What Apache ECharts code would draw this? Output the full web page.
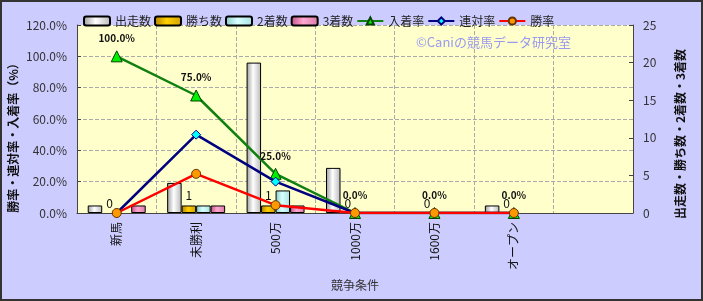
<!DOCTYPE html>
<html><head><meta charset="utf-8">
<script src="https://cdn.jsdelivr.net/npm/echarts@6/dist/echarts.min.js"></script>
<style>html,body{margin:0;padding:0;background:#CCCCFF}#c{width:703px;height:301px}</style>
</head><body><div id="c"></div>
<script>
const categories = ['新馬', '未勝利', '500万', '1000万', '1600万', 'オープン', ''];
const starts = [1, 4, 20, 6, 0, 1, null];
const wins = [0, 1, 1, 0, 0, 0, null];
const seconds = [0, 1, 3, 0, 0, 0, null];
const thirds = [1, 1, 1, 0, 0, 0, null];
const placeRate = [100, 75, 25, 0, 0, 0, null];
const quinellaRate = [0, 50, 20, 0, 0, 0, null];
const winRate = [0, 25, 5, 0, 0, 0, null];
const seriesNames = ['出走数', '勝ち数', '2着数', '3着数', '入着率', '連対率', '勝率'];

const FONT = '"Noto Sans CJK JP", "DejaVu Sans", sans-serif';
function grad(a, b, c) {
  return new echarts.graphic.LinearGradient(0, 0, 1, 0, [
    {offset: 0, color: a}, {offset: 0.45, color: b}, {offset: 1, color: c}]);
}
// zero-height bars get no border (as in the reference)
function barData(arr) {
  return arr.map(v => v === 0 ? {value: 0, itemStyle: {borderWidth: 0}} : v);
}
const barBase = {type: 'bar', yAxisIndex: 1, barGap: '0%', barCategoryGap: '27%'};
const chart = echarts.init(document.getElementById('c'));
chart.setOption({
  backgroundColor: '#CCCCFF',
  animation: false,
  textStyle: {fontFamily: FONT},
  grid: {left: 77, right: 70, top: 25, bottom: 88, show: true, backgroundColor: '#FFFFCC', borderWidth: 0},
  legend: {
    data: seriesNames, left: 78, top: 10, itemWidth: 26, itemHeight: 9, itemGap: 3,
    textStyle: {fontSize: 12, color: '#222', fontFamily: FONT}
  },
  xAxis: {
    type: 'category', data: categories,
    name: '競争条件', nameLocation: 'middle', nameGap: 66,
    nameTextStyle: {fontSize: 12, color: '#333', fontFamily: FONT},
    axisLine: {lineStyle: {color: '#444', width: 1}},
    axisTick: {show: false},
    axisLabel: {rotate: 90, fontSize: 12, color: '#111', margin: 9, interval: 0},
    splitLine: {show: true, lineStyle: {color: '#aaa', type: 'dashed', width: 1}}
  },
  yAxis: [{
    type: 'value', min: 0, max: 120, interval: 20,
    axisLine: {show: true, lineStyle: {color: '#444'}},
    axisTick: {show: true, inside: true, length: 4, lineStyle: {color: '#444'}},
    axisLabel: {fontSize: 12, color: '#333', margin: 10, formatter: v => v.toFixed(1) + '%'},
    splitLine: {show: true, lineStyle: {color: '#aaa', type: 'dashed', width: 1}}
  }, {
    type: 'value', min: 0, max: 25, interval: 5,
    axisLine: {show: true, lineStyle: {color: '#444'}},
    axisTick: {show: true, inside: true, length: 4, lineStyle: {color: '#444'}},
    axisLabel: {fontSize: 12, color: '#333', margin: 10},
    splitLine: {show: false}
  }],
  series: [
    Object.assign({}, barBase, {name: '出走数', data: barData(starts),
      itemStyle: {color: grad('#9a9a9a', '#ffffff', '#b8b8b8'), borderColor: '#000', borderWidth: 1}}),
    Object.assign({}, barBase, {name: '勝ち数', data: barData(wins),
      itemStyle: {color: grad('#b08000', '#ffd000', '#d0a000'), borderColor: '#000', borderWidth: 1},
      label: {show: true, position: 'top', distance: 4, fontSize: 12, color: '#111'}}),
    Object.assign({}, barBase, {name: '2着数', data: barData(seconds),
      itemStyle: {color: grad('#88c8c8', '#d8ffff', '#a8e0e0'), borderColor: '#000', borderWidth: 1}}),
    Object.assign({}, barBase, {name: '3着数', data: barData(thirds),
      itemStyle: {color: grad('#c05088', '#ffa8d0', '#d878a8'), borderColor: '#000', borderWidth: 1}}),
    {type: 'line', name: '入着率', yAxisIndex: 0, data: placeRate, z: 5,
      lineStyle: {color: '#108010', width: 2.5}, symbol: 'triangle', symbolSize: 11,
      itemStyle: {color: '#00ee00', borderColor: '#004400', borderWidth: 1},
      label: {show: true, position: 'top', distance: 7, fontSize: 10, fontWeight: 'bold', color: '#111',
        formatter: p => p.value.toFixed(1) + '%'}},
    {type: 'line', name: '連対率', yAxisIndex: 0, data: quinellaRate, z: 6,
      lineStyle: {color: '#000080', width: 2.5}, symbol: 'diamond', symbolSize: 9,
      itemStyle: {color: '#00ffff', borderColor: '#000080', borderWidth: 1}},
    {type: 'line', name: '勝率', yAxisIndex: 0, data: winRate, z: 7,
      lineStyle: {color: '#ff0000', width: 2.5}, symbol: 'circle', symbolSize: 9,
      itemStyle: {color: '#ff9900', borderColor: '#663300', borderWidth: 1}}
  ],
  graphic: [
    {type: 'text', left: 416, top: 36, silent: true,
      style: {text: '©Caniの競馬データ研究室', fontSize: 13, fill: '#9a9af0', fontFamily: FONT}},
    {type: 'text', x: 13, y: 135, rotation: Math.PI / 2, silent: true,
      style: {text: '勝率・連対率・入着率（%）', fontSize: 12, fontWeight: 'bold', fill: '#111',
        align: 'center', verticalAlign: 'middle', fontFamily: FONT}},
    {type: 'text', x: 680, y: 134, rotation: Math.PI / 2, silent: true,
      style: {text: '出走数・勝ち数・2着数・3着数', fontSize: 12, fontWeight: 'bold', fill: '#111',
        align: 'center', verticalAlign: 'middle', fontFamily: FONT}},
    {type: 'rect', silent: true, shape: {x: 1, y: 1, width: 701, height: 299},
      style: {fill: null, stroke: '#333', lineWidth: 2}}
  ]
});
</script></body></html>
